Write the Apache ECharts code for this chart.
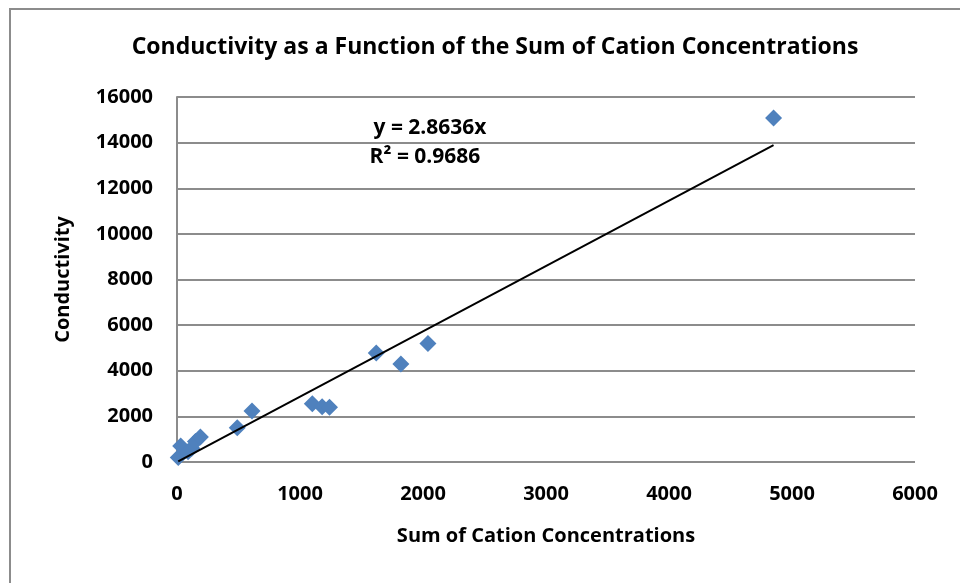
<!DOCTYPE html>
<html>
<head>
<meta charset="utf-8">
<script src="https://cdn.jsdelivr.net/npm/echarts@6/dist/echarts.min.js"></script>
<style>
  html, body { margin: 0; padding: 0; background: #fff; }
  #main { width: 960px; height: 583px; }
</style>
</head>
<body>
<div id="main"></div>
<script>
// values
var cationSum = [10, 30, 90, 120, 150, 190, 490, 610, 1100, 1180, 1240, 1620, 1820, 2040, 4850];
var conductivity = [200, 700, 450, 600, 900, 1100, 1500, 2240, 2550, 2420, 2400, 4780, 4300, 5200, 15080];
var slope = 2.8636;
var rSquared = 0.9686;
var xTicks = [0, 1000, 2000, 3000, 4000, 5000, 6000];
var yTicks = [0, 2000, 4000, 6000, 8000, 10000, 12000, 14000, 16000];

var points = cationSum.map(function (x, i) { return [x, conductivity[i]]; });
var xMin = Math.min.apply(null, cationSum), xMax = Math.max.apply(null, cationSum);
var trend = [[xMin, slope * xMin], [xMax, slope * xMax]];

var font = 'Open Sans';
var myChart = echarts.init(document.getElementById('main'));
var option = {
    animation: false,
    title: {
        text: 'Conductivity as a Function of the Sum of Cation Concentrations',
        left: 490, top: 31, textAlign: 'center',
        textStyle: { fontFamily: font, fontWeight: 'bold', fontSize: 23, color: '#000' }
    },
    grid: { left: 177, right: 45, top: 97, bottom: 121 },
    graphic: [{
        type: 'rect', silent: true,
        shape: { x: 10, y: 9, width: 980, height: 600 },
        style: { fill: 'none', stroke: '#8c8c8c', lineWidth: 2 }
    }, {
        type: 'text', x: 430, y: 128,
        style: { text: 'y = ' + slope + 'x', align: 'center', verticalAlign: 'middle',
                 fontFamily: font, fontWeight: 'bold', fontSize: 21, fill: '#000' }
    }, {
        type: 'text', x: 425, y: 157,
        style: { text: 'R² = ' + rSquared, align: 'center', verticalAlign: 'middle',
                 fontFamily: font, fontWeight: 'bold', fontSize: 21, fill: '#000' }
    }],
    xAxis: {
        type: 'value', min: xTicks[0], max: xTicks[xTicks.length - 1], interval: 1000,
        name: 'Sum of Cation Concentrations', nameLocation: 'middle', nameGap: 64,
        nameTextStyle: { fontFamily: font, fontWeight: 'bold', fontSize: 20, color: '#000' },
        axisLine: { show: false },
        axisTick: { show: false },
        splitLine: { show: false },
        axisLabel: { margin: 22, formatter: function (v) { return String(v); },
                     fontFamily: font, fontWeight: 'bold', fontSize: 20, color: '#000' }
    },
    yAxis: {
        type: 'value', min: yTicks[0], max: yTicks[yTicks.length - 1], interval: 2000,
        name: 'Conductivity', nameLocation: 'middle', nameGap: 104,
        nameTextStyle: { fontFamily: font, fontWeight: 'bold', fontSize: 20, color: '#000' },
        axisLine: { show: true, lineStyle: { color: '#8c8c8c', width: 2 } },
        axisTick: { show: false },
        splitLine: { show: true, lineStyle: { color: '#8c8c8c', width: 2 } },
        axisLabel: { margin: 24, formatter: function (v) { return String(v); },
                     fontFamily: font, fontWeight: 'bold', fontSize: 20, color: '#000' }
    },
    series: [{
        type: 'scatter',
        data: points,
        symbol: 'path://M0,-1L1,0L0,1L-1,0Z',
        symbolSize: 17,
        itemStyle: { color: '#4f81bd', opacity: 1 },
        z: 3
    }, {
        type: 'line',
        data: trend,
        symbol: 'none',
        lineStyle: { color: '#000', width: 2 },
        z: 4
    }]
};
myChart.setOption(option);
</script>
</body>
</html>
